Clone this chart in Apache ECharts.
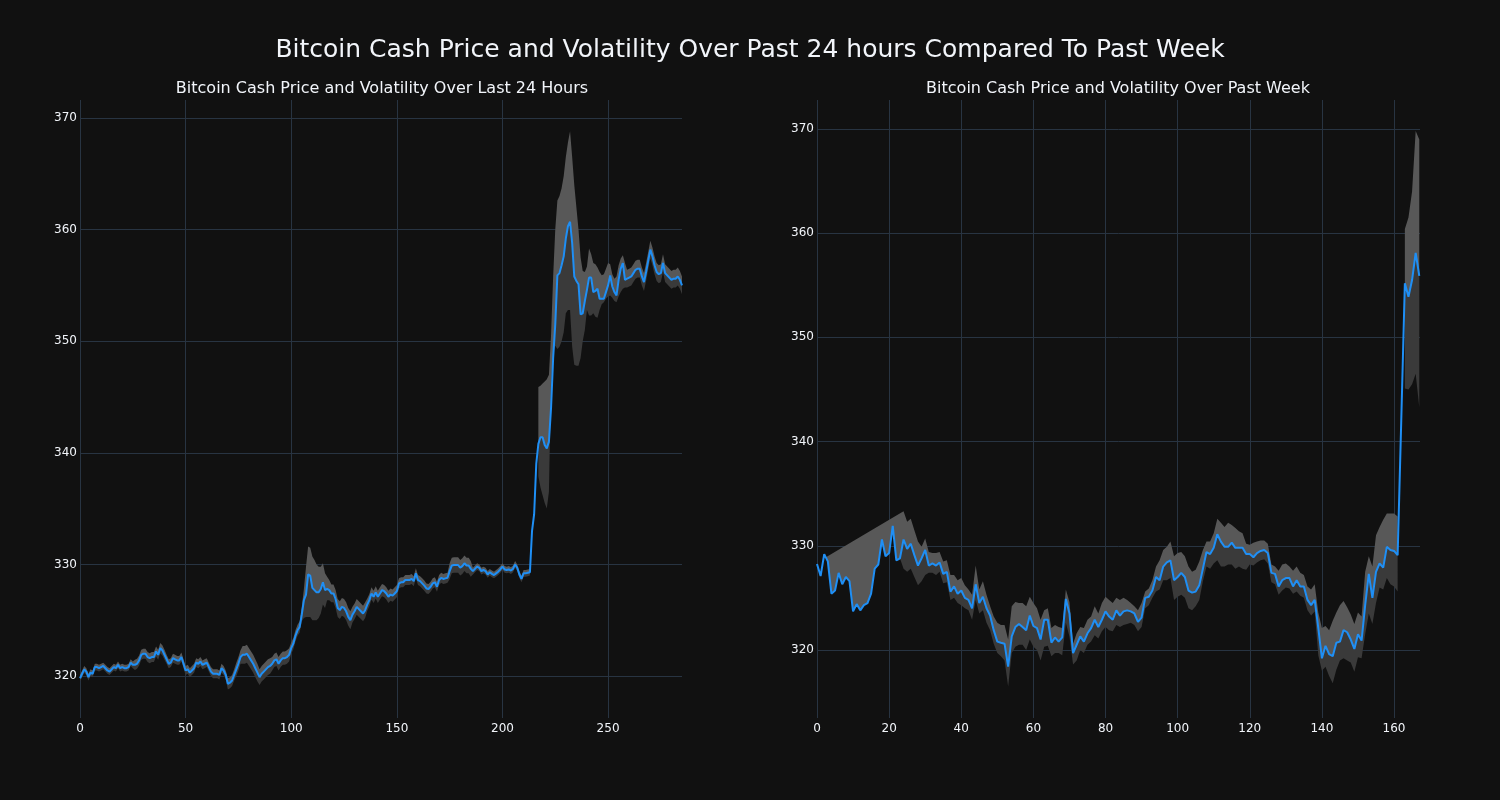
<!DOCTYPE html>
<html>
<head>
<meta charset="utf-8">
<script src="https://cdn.jsdelivr.net/npm/echarts@6/dist/echarts.min.js"></script>
<style>
html,body{margin:0;padding:0;background:#111111;}
#chart{width:1500px;height:800px;}
</style>
</head>
<body>
<div id="chart"></div>
<script>
// ---------------- DATA ----------------
const mainTitle = 'Bitcoin Cash Price and Volatility Over Past 24 hours Compared To Past Week';
const dayTitle = 'Bitcoin Cash Price and Volatility Over Last 24 Hours';
const weekTitle = 'Bitcoin Cash Price and Volatility Over Past Week';

// 24h price (5-minute steps)
const dayPrice = [
319.8,320.2,320.6,320.4,319.9,320.3,320.2,320.8,320.8,320.7,
320.8,320.9,320.7,320.5,320.4,320.6,320.8,320.7,321.0,320.7,
320.8,320.7,320.7,320.8,321.2,321.0,321.0,321.1,321.4,321.9,
322.0,322.0,321.7,321.6,321.7,321.7,322.2,321.9,322.5,322.3,
321.9,321.5,321.1,321.2,321.6,321.5,321.4,321.4,321.7,321.1,
320.5,320.6,320.3,320.5,320.7,321.2,321.1,321.3,321.0,321.1,
321.2,320.8,320.4,320.2,320.2,320.2,320.1,320.7,320.5,320.1,
319.3,319.4,319.6,320.1,320.6,321.1,321.7,321.9,321.9,322.0,
321.7,321.4,321.1,320.7,320.3,319.9,320.2,320.4,320.6,320.8,
320.9,321.1,321.4,321.5,321.1,321.4,321.6,321.6,321.7,321.9,
322.5,322.9,323.6,324.1,324.4,325.5,326.8,327.3,329.1,329.0,
327.9,327.7,327.5,327.5,327.8,328.4,327.7,327.8,327.7,327.4,
327.4,326.9,326.1,325.9,326.2,326.1,325.8,325.3,325.0,325.5,
325.8,326.2,326.0,325.8,325.6,325.9,326.4,326.8,327.4,327.1,
327.5,327.1,327.4,327.7,327.6,327.4,327.1,327.3,327.2,327.4,
327.6,328.3,328.4,328.4,328.6,328.6,328.6,328.7,328.5,329.2,
328.6,328.5,328.3,328.1,327.85,327.8,328.0,328.3,328.4,328.0,
328.6,328.8,328.7,328.75,328.8,329.4,329.9,329.95,329.95,329.95,
329.7,329.85,330.1,329.9,329.9,329.6,329.4,329.6,329.8,329.7,
329.4,329.5,329.4,329.1,329.3,329.15,329.05,329.2,329.35,329.55,
329.8,329.55,329.5,329.55,329.45,329.6,330.0,329.7,329.1,328.7,
329.2,329.2,329.25,329.3,333.0,334.5,339.0,340.8,341.4,341.4,
340.7,340.4,341.0,344.0,348.5,351.5,355.9,356.1,356.8,357.6,
359.2,360.3,360.7,358.8,355.8,355.4,355.1,352.4,352.5,353.6,
354.6,355.7,355.7,354.4,354.5,354.7,353.8,353.8,353.8,354.4,
355.0,355.9,354.9,354.4,354.1,355.5,356.5,357.0,355.5,355.6,
355.7,355.8,356.1,356.4,356.5,356.5,355.8,355.3,356.2,357.2,
358.2,357.6,356.8,356.2,356.0,356.1,357.0,356.1,355.9,355.7,
355.5,355.6,355.6,355.8,355.5,355.0
];

// 24h volatility band: distance above the price
const dayBandUp = [
0.3,0.3,0.3,0.3,0.3,0.3,0.3,0.3,0.3,0.3,
0.3,0.3,0.3,0.3,0.3,0.3,0.3,0.3,0.3,0.3,
0.3,0.3,0.3,0.3,0.3,0.3,0.45,0.45,0.45,0.45,
0.45,0.45,0.45,0.45,0.45,0.45,0.45,0.45,0.45,0.45,
0.45,0.4,0.4,0.4,0.4,0.4,0.4,0.4,0.4,0.4,
0.4,0.4,0.4,0.4,0.4,0.4,0.4,0.4,0.4,0.4,
0.4,0.4,0.4,0.4,0.4,0.4,0.4,0.4,0.4,0.4,
0.5,0.5,0.5,0.5,0.6,0.6,0.6,0.8,0.8,0.8,
0.8,0.8,0.8,0.8,0.8,0.7,0.7,0.7,0.7,0.7,
0.7,0.6,0.6,0.6,0.6,0.6,0.6,0.6,0.6,0.6,
0.5,0.5,0.5,0.5,0.5,0.7,1.0,2.5,2.5,2.5,
2.8,2.7,2.5,2.3,2.0,1.7,1.5,1.1,0.9,0.8,
0.8,0.8,0.8,0.8,0.8,0.8,0.8,0.8,0.8,0.7,
0.7,0.7,0.7,0.7,0.7,0.7,0.55,0.55,0.55,0.55,
0.55,0.55,0.55,0.55,0.55,0.55,0.55,0.55,0.55,0.55,
0.55,0.45,0.45,0.45,0.45,0.45,0.45,0.45,0.45,0.45,
0.45,0.45,0.45,0.45,0.45,0.45,0.45,0.45,0.45,0.45,
0.45,0.45,0.45,0.45,0.45,0.7,0.7,0.7,0.7,0.7,
0.7,0.7,0.7,0.7,0.7,0.7,0.3,0.3,0.3,0.3,
0.3,0.3,0.3,0.3,0.3,0.3,0.3,0.3,0.3,0.3,
0.3,0.3,0.3,0.3,0.3,0.3,0.3,0.3,0.3,0.3,
0.3,0.3,0.3,0.3,null,null,null,5.1,4.6,4.8,
5.7,6.2,6.0,6.5,7.3,8.5,6.7,6.9,6.9,7.2,
7.3,7.5,8.1,7.7,8.2,6.6,4.9,5.1,3.8,2.6,
2.1,2.6,2.1,2.6,2.4,1.9,2.4,2.1,2.2,2.1,
2.0,1.0,1.1,1.2,1.7,1.3,0.9,0.7,1.5,0.8,
0.8,0.8,0.8,0.8,0.8,0.8,0.8,0.8,0.8,0.8,
0.8,0.8,0.8,0.8,0.8,0.8,0.8,0.8,0.8,0.8,
0.8,0.8,0.8,0.8,0.8,0.8
];

// 24h volatility band: distance below the price
const dayBandDn = [
0.3,0.3,0.3,0.3,0.3,0.3,0.3,0.3,0.3,0.3,
0.3,0.3,0.3,0.3,0.3,0.3,0.3,0.3,0.3,0.3,
0.3,0.3,0.3,0.3,0.3,0.3,0.45,0.45,0.45,0.45,
0.45,0.45,0.45,0.45,0.45,0.45,0.45,0.45,0.45,0.45,
0.45,0.4,0.4,0.4,0.4,0.4,0.4,0.4,0.4,0.4,
0.4,0.4,0.4,0.4,0.4,0.4,0.4,0.4,0.4,0.4,
0.4,0.4,0.4,0.4,0.4,0.4,0.4,0.4,0.4,0.4,
0.5,0.5,0.5,0.5,0.6,0.6,0.6,0.8,0.8,0.8,
0.8,0.8,0.8,0.8,0.8,0.7,0.7,0.7,0.7,0.7,
0.7,0.6,0.6,0.6,0.6,0.6,0.6,0.6,0.6,0.6,
0.5,0.5,0.5,0.5,0.5,0.6,1.6,2.0,3.8,3.7,
2.9,2.7,2.5,2.3,2.2,2.0,1.6,1.0,0.9,0.8,
0.8,0.8,0.8,0.8,0.8,0.8,0.8,0.8,0.8,0.7,
0.7,0.7,0.7,0.7,0.7,0.7,0.55,0.55,0.55,0.55,
0.55,0.55,0.55,0.55,0.55,0.55,0.55,0.55,0.55,0.55,
0.55,0.45,0.45,0.45,0.45,0.45,0.45,0.45,0.45,0.45,
0.45,0.45,0.45,0.45,0.45,0.45,0.45,0.45,0.45,0.45,
0.45,0.45,0.45,0.45,0.45,0.7,0.7,0.7,0.7,0.7,
0.7,0.7,0.7,0.7,0.7,0.7,0.3,0.3,0.3,0.3,
0.3,0.3,0.3,0.3,0.3,0.3,0.3,0.3,0.3,0.3,
0.3,0.3,0.3,0.3,0.3,0.3,0.3,0.3,0.3,0.3,
0.3,0.3,0.3,0.3,null,null,null,2.9,4.5,5.2,
5.2,5.4,4.5,-2.5,-0.5,1.9,6.6,6.6,6.8,6.8,
6.7,7.5,7.9,9.3,7.9,7.6,7.3,3.9,2.5,2.6,
1.8,3.4,3.4,1.9,2.3,2.6,1.0,0.5,0.3,0.6,
1.0,1.8,1.0,0.8,0.6,1.5,2.1,2.3,0.7,0.8,
0.8,0.8,0.8,0.8,0.8,0.8,0.8,0.8,0.8,0.8,
0.8,0.8,0.8,0.8,0.8,0.8,0.8,0.8,0.8,0.8,
0.8,0.8,0.8,0.8,0.8,0.8
];

// Week price (hourly)
const weekPrice = [
328.25,327.1,329.2,328.5,325.4,325.7,327.4,326.3,327.0,326.6,
323.7,324.4,323.8,324.3,324.5,325.4,327.8,328.2,330.6,329.0,
329.3,331.9,328.6,328.8,330.6,329.7,330.2,329.1,328.1,328.8,
329.6,328.1,328.3,328.1,328.4,327.3,327.5,325.6,326.1,325.4,
325.7,325.0,324.8,324.0,326.3,324.5,325.1,324.0,323.3,321.9,
320.8,320.7,320.6,318.4,321.3,322.2,322.5,322.2,321.9,323.3,
322.3,322.1,321.0,322.9,322.9,320.7,321.2,320.8,321.2,324.9,
323.5,319.7,320.5,321.3,320.8,321.6,322.1,322.9,322.2,322.9,
323.7,323.2,322.9,323.8,323.3,323.7,323.8,323.7,323.5,322.7,
323.1,325.0,325.1,325.7,327.0,326.7,328.0,328.4,328.6,326.7,
327.0,327.4,327.0,325.7,325.5,325.6,326.2,327.8,329.4,329.2,
329.8,331.1,330.4,329.9,329.9,330.3,329.8,329.8,329.8,329.2,
329.2,328.9,329.3,329.5,329.6,329.3,327.4,327.3,326.1,326.7,
326.9,326.9,326.1,326.7,326.1,326.1,324.8,324.3,324.8,322.1,
319.2,320.4,319.6,319.4,320.7,320.8,321.9,321.7,321.0,320.1,
321.5,320.9,324.3,327.3,325.0,327.5,328.3,327.9,329.9,329.6,
329.5,329.1,342.0,355.2,353.9,355.5,358.1,355.9
];

// Week volatility band, upper edge
const weekUpper = [
null,null,328.8,null,null,null,null,null,null,null,
null,null,null,null,null,null,null,null,null,null,
null,null,null,null,333.3,332.3,332.6,331.5,330.4,329.9,
330.7,329.4,329.3,329.3,329.4,328.5,328.6,327.2,327.2,326.7,
326.9,326.2,325.8,325.3,328.1,325.8,326.6,325.3,324.2,323.2,
322.6,322.4,322.4,321.0,324.2,324.6,324.5,324.5,324.2,325.1,
324.5,324.0,322.9,323.8,324.0,322.1,322.4,322.2,322.1,325.8,
324.6,320.6,321.6,322.2,322.1,322.9,323.2,324.2,323.5,324.5,
325.1,324.8,324.5,325.0,324.8,325.0,324.8,324.5,324.2,323.8,
324.5,325.6,325.9,326.7,328.0,328.6,329.6,329.9,330.4,329.0,
329.3,329.4,329.0,328.0,327.5,327.7,328.5,329.6,330.4,330.4,
331.2,332.6,332.2,331.8,332.2,332.0,331.7,331.4,331.2,330.2,
330.1,330.3,330.4,330.5,330.5,330.2,328.2,328.0,327.6,328.2,
328.3,328.0,327.6,328.0,327.4,327.2,326.1,325.8,326.3,323.6,
322.1,322.3,321.9,322.8,323.6,324.3,324.7,324.1,323.4,322.5,
323.6,323.2,327.5,329.0,328.0,331.0,331.8,332.5,333.1,333.1,
333.1,332.8,null,360.4,361.5,364.0,369.8,369.0
];

// Week volatility band, lower edge
const weekLower = [
null,null,null,null,null,null,null,null,null,null,
null,null,null,null,null,null,null,null,null,null,
null,null,null,null,327.8,327.5,327.8,327.0,326.2,326.6,
327.2,327.4,327.4,327.2,327.5,326.4,326.5,324.8,325.0,324.5,
324.3,324.0,323.8,322.9,324.8,323.5,323.8,322.6,321.9,320.6,
319.7,319.4,319.0,316.5,319.7,320.3,320.5,320.5,320.0,321.0,
320.3,320.0,319.0,320.3,320.4,319.4,319.7,319.7,319.5,322.6,
321.3,318.6,319.0,320.0,319.7,320.5,320.8,321.4,321.1,321.8,
322.2,321.9,321.8,322.4,322.2,322.4,322.5,322.6,322.4,321.8,
322.2,324.0,324.3,325.0,325.6,325.8,326.7,326.7,326.9,324.8,
325.1,325.3,325.0,324.0,323.8,324.2,324.8,326.6,328.0,327.8,
328.3,328.6,328.0,328.0,328.2,328.2,327.8,328.0,327.8,327.7,
328.2,328.1,328.4,328.6,328.7,328.3,326.5,326.3,325.3,325.7,
326.0,325.9,325.4,325.6,325.2,325.0,323.8,323.3,323.7,319.5,
318.0,318.4,317.5,316.8,318.1,319.0,319.2,319.0,318.8,317.9,
319.3,319.2,321.5,323.5,322.5,324.5,326.0,325.8,326.9,326.3,
326.1,325.6,null,345.1,345.0,345.5,346.5,343.3
];

// Index ranges over which the band is drawn as one filled shape
const dayBandRuns = [[0, 213], [217, 285]];
const weekBandRuns = [[2, 161], [163, 167]];

// ---------------- BUILD ----------------
const dayUpper = dayPrice.map((v, i) => dayBandUp[i] == null ? null : +(v + dayBandUp[i]).toFixed(3));
const dayLower = dayPrice.map((v, i) => dayBandDn[i] == null ? null : +(v - dayBandDn[i]).toFixed(3));

const BG = '#111111';
const GRID = '#283442';
const TXT = '#f2f5fa';
const FONT = 'DejaVu Sans';
const LINE = '#1f8ff5';
const LIGHT = '#585858';
const DARK = '#3a3a3a';

function bandRenderer(price, upper, lower, runs) {
  return function (params, api) {
    const r = runs[params.dataIndex];
    const up = [], mid = [], lo = [];
    for (let i = r[0]; i <= r[1]; i++) {
      mid.push(api.coord([i, price[i]]));
      if (upper[i] != null) up.push(api.coord([i, upper[i]]));
      lo.push(api.coord([i, lower[i] != null ? lower[i] : price[i]]));
    }
    return {
      type: 'group',
      children: [
        { type: 'polygon', silent: true, shape: { points: up.concat(mid.slice().reverse()) }, style: { fill: LIGHT } },
        { type: 'polygon', silent: true, shape: { points: mid.concat(lo.slice().reverse()) }, style: { fill: DARK } }
      ]
    };
  };
}

function xAxis(gi, max, interval) {
  return {
    type: 'value', gridIndex: gi, min: 0, max: max, interval: interval,
    axisLine: { show: false }, axisTick: { show: false },
    axisLabel: { color: TXT, fontSize: 12, fontFamily: FONT, margin: 5, showMaxLabel: false },
    splitLine: { show: true, showMaxLine: false, lineStyle: { color: GRID, width: 1 } }
  };
}
function yAxis(gi, min, max) {
  return {
    type: 'value', gridIndex: gi, min: min, max: max, splitNumber: 5,
    axisLine: { show: false }, axisTick: { show: false },
    axisLabel: { color: TXT, fontSize: 12, fontFamily: FONT, margin: 3, showMinLabel: false, showMaxLabel: false },
    splitLine: { show: true, showMinLine: false, showMaxLine: false, lineStyle: { color: GRID, width: 1 } }
  };
}

const chart = echarts.init(document.getElementById('chart'), null, { renderer: 'canvas' });
chart.setOption({
  backgroundColor: BG,
  animation: false,
  textStyle: { fontFamily: FONT },
  graphic: [
    { type: 'text', x: 750, y: 50, silent: true, style: { text: mainTitle, fill: TXT, fontSize: 25, fontFamily: FONT, align: 'center', verticalAlign: 'middle' } },
    { type: 'text', x: 382, y: 89, silent: true, style: { text: dayTitle, fill: TXT, fontSize: 16, fontFamily: FONT, align: 'center', verticalAlign: 'middle' } },
    { type: 'text', x: 1118, y: 89, silent: true, style: { text: weekTitle, fill: TXT, fontSize: 16, fontFamily: FONT, align: 'center', verticalAlign: 'middle' } }
  ],
  grid: [
    { left: 80, top: 100, width: 602, height: 618 },
    { left: 817, top: 100, width: 603, height: 618 }
  ],
  xAxis: [xAxis(0, 285, 50), xAxis(1, 167.2, 20)],
  yAxis: [yAxis(0, 316.24, 371.61), yAxis(1, 313.47, 372.78)],
  series: [
    {
      type: 'custom', xAxisIndex: 0, yAxisIndex: 0, z: 1,
      renderItem: bandRenderer(dayPrice, dayUpper, dayLower, dayBandRuns),
      encode: { x: 0, y: 1 },
      data: dayBandRuns.map(r => [r[0], dayPrice[r[0]]])
    },
    {
      type: 'custom', xAxisIndex: 1, yAxisIndex: 1, z: 1,
      renderItem: bandRenderer(weekPrice, weekUpper, weekLower, weekBandRuns),
      encode: { x: 0, y: 1 },
      data: weekBandRuns.map(r => [r[0], weekPrice[r[0]]])
    },
    {
      type: 'line', xAxisIndex: 0, yAxisIndex: 0, z: 3, symbol: 'none', silent: true,
      lineStyle: { color: LINE, width: 2 },
      data: dayPrice.map((v, i) => [i, v])
    },
    {
      type: 'line', xAxisIndex: 1, yAxisIndex: 1, z: 3, symbol: 'none', silent: true,
      lineStyle: { color: LINE, width: 2 },
      data: weekPrice.map((v, i) => [i, v])
    }
  ]
});
</script>
</body>
</html>
